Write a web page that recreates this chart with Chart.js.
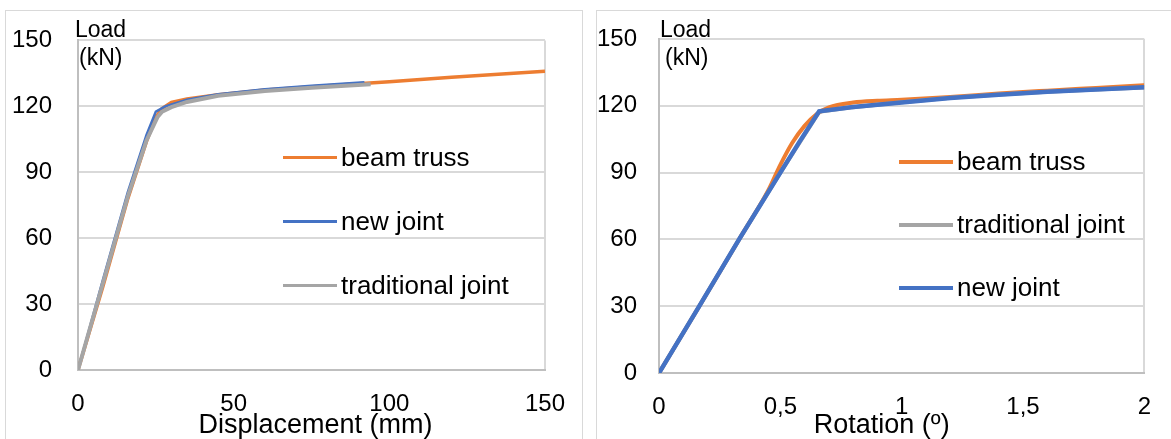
<!DOCTYPE html>
<html>
<head>
<meta charset="utf-8">
<script src="https://cdn.jsdelivr.net/npm/chart.js@4/dist/chart.umd.min.js"></script>
<style>
  html, body { margin: 0; padding: 0; background: #fff; width: 1171px; height: 439px; overflow: hidden; }
  .panel { position: absolute; border: 1px solid #d9d9d9; box-sizing: border-box; }
  #p1 { left: 5px; top: 10px; width: 578px; height: 445px; }
  #p2 { left: 596px; top: 10px; width: 600px; height: 445px; }
  .wrap { position: absolute; top: 0; height: 439px; width: 585px; }
  #w1 { left: 0; }
  #w2 { left: 586px; }
</style>
</head>
<body>
<div class="panel" id="p1"></div>
<div class="panel" id="p2"></div>
<div class="wrap" id="w1"><canvas id="c1" width="585" height="439"></canvas></div>
<div class="wrap" id="w2"><canvas id="c2" width="585" height="439"></canvas></div>
<script>
// ---- axis ticks ----
const loadTicks = [0, 30, 60, 90, 120, 150];
const loadTickLabels = ['0', '30', '60', '90', '120', '150'];
const dispTicks = [0, 50, 100, 150];
const dispTickLabels = ['0', '50', '100', '150'];
const rotTicks = [0, 0.5, 1, 1.5, 2];
const rotTickLabels = ['0', '0,5', '1', '1,5', '2'];

// ---- load vs displacement (mm, kN) ----
const dispBeamTruss = [[0, 0], [8, 38], [16, 78], [22, 104], [25, 115], [27, 119], [30, 121.8], [35, 123.3], [45, 125.3], [60, 127.4], [80, 129.4], [100, 131.2], [120, 133.2], [150, 136]];
const dispNewJoint = [[0, 0], [8, 41], [16, 81], [22, 107], [25, 117.6], [28, 120], [35, 123], [45, 125.5], [60, 127.8], [75, 129.4], [92, 131]];
const dispTraditional = [[0, 0], [8, 39.5], [16, 79], [22, 104.5], [25.5, 115], [27, 117.5], [30, 119.6], [35, 122], [45, 124.8], [60, 127], [75, 128.5], [94, 130]];

// ---- load vs rotation (deg, kN) ----
const rotBeamTruss = [[0, 0], [0.166, 30], [0.33, 60], [0.45, 82], [0.5, 93.5], [0.55, 103.5], [0.6, 111], [0.65, 116.3], [0.7, 119.3], [0.8, 121.5], [0.9, 122.3], [1.0, 122.7], [1.2, 123.9], [1.4, 125.5], [1.6, 126.8], [1.8, 128], [2.0, 129.2]];
const rotTraditional = [[0, 0], [0.166, 30], [0.33, 60], [0.5, 90], [0.66, 117.3], [0.8, 119.4], [1.0, 121.6], [1.2, 123.6], [1.4, 125.1], [1.6, 126.3], [1.8, 127.3], [2.0, 128.2]];
const rotNewJoint = [[0, 0], [0.166, 30], [0.33, 60], [0.5, 90], [0.58, 104], [0.66, 117.5], [0.8, 119.5], [1.0, 121.5], [1.2, 123.5], [1.4, 125], [1.6, 126.3], [1.8, 127.3], [2.0, 128.3]];

const ORANGE = '#ED7D31', BLUE = '#4472C4', GRAY = '#A5A5A5';
const FONT = 'Liberation Sans, Arial, sans-serif';

const toXY = arr => arr.map(p => ({ x: p[0], y: p[1] }));

// Draws the "Load (kN)" caption, the x-axis title and the in-plot legend
const overlayPlugin = {
  id: 'overlay',
  afterDraw(chart, args, o) {
    const { ctx, chartArea: a } = chart;
    ctx.save();
    ctx.fillStyle = '#000';
    ctx.textAlign = 'left';
    ctx.textBaseline = 'alphabetic';
    ctx.font = o.unitFont + 'px ' + FONT;
    ctx.fillText('Load', a.left + o.loadDx, o.loadY);
    ctx.fillText('(kN)', a.left + o.unitDx, o.unitY);

    ctx.font = o.titleFont + 'px ' + FONT;
    ctx.textAlign = 'center';
    ctx.fillText(o.title, (a.left + a.right) / 2 + o.titleDx, o.titleY);

    ctx.textAlign = 'left';
    ctx.font = o.legendFont + 'px ' + FONT;
    ctx.textBaseline = 'middle';
    o.items.forEach((it, i) => {
      const y = a.top + o.legendTop + i * o.legendGap;
      ctx.strokeStyle = it.color;
      ctx.lineWidth = o.legendLine;
      ctx.lineCap = 'butt';
      ctx.beginPath();
      ctx.moveTo(a.left + o.legendX, y);
      ctx.lineTo(a.left + o.legendX + o.legendLen, y);
      ctx.stroke();
      ctx.fillStyle = '#000';
      ctx.fillText(it.text, a.left + o.legendX + o.legendLen + 4, y + 1);
    });
    ctx.restore();
  }
};

function makeChart(id, cfg) {
  const xMax = cfg.xTicks[cfg.xTicks.length - 1];
  return new Chart(document.getElementById(id), {
    type: 'line',
    data: {
      datasets: cfg.series.map(s => ({
        label: s.label,
        data: toXY(s.data),
        borderColor: s.color,
        backgroundColor: s.color,
        borderWidth: s.width,
        pointRadius: 0,
        fill: false,
        tension: 0,
        cubicInterpolationMode: s.smooth ? 'monotone' : 'default'
      }))
    },
    options: {
      responsive: false,
      animation: false,
      events: [],
      layout: { padding: { top: cfg.padTop, right: cfg.padRight, left: 0, bottom: 0 } },
      plugins: {
        legend: { display: false },
        tooltip: { enabled: false },
        overlay: cfg.overlay
      },
      scales: {
        x: {
          type: 'linear',
          min: 0,
          max: xMax,
          afterBuildTicks: s => { s.ticks = cfg.xTicks.map(v => ({ value: v })); },
          afterFit: s => { s.height = cfg.xHeight; },
          ticks: {
            callback: (v, i) => cfg.xLabels[i],
            font: { family: FONT, size: 24 },
            color: '#000',
            padding: cfg.xTickPad,
            maxRotation: 0,
            autoSkip: false
          },
          grid: {
            drawTicks: false,
            lineWidth: 2,
            color: c => (c.tick && c.tick.value === xMax) ? '#d9d9d9' : 'rgba(0,0,0,0)'
          },
          border: { color: '#bfbfbf', width: 2 }
        },
        y: {
          type: 'linear',
          min: 0,
          max: 150,
          afterBuildTicks: s => { s.ticks = loadTicks.map(v => ({ value: v })); },
          afterFit: s => { s.width = cfg.yWidth; },
          ticks: {
            callback: (v, i) => loadTickLabels[i],
            font: { family: FONT, size: 24 },
            color: '#000',
            padding: cfg.yTickPad,
            autoSkip: false
          },
          grid: { drawTicks: false, color: '#d9d9d9', lineWidth: 2 },
          border: { color: '#bfbfbf', width: 2 }
        }
      }
    },
    plugins: [overlayPlugin]
  });
}

// Load–displacement panel (top-most series listed first)
makeChart('c1', {
  xTicks: dispTicks, xLabels: dispTickLabels,
  padTop: 38, padRight: 39, xHeight: 69, yWidth: 78, xTickPad: 20, yTickPad: 26,
  series: [
    { label: 'traditional joint', data: dispTraditional, color: GRAY, width: 4 },
    { label: 'new joint', data: dispNewJoint, color: BLUE, width: 2.5 },
    { label: 'beam truss', data: dispBeamTruss, color: ORANGE, width: 3.5 }
  ],
  overlay: {
    unitFont: 23, loadDx: -3, loadY: 36.5, unitDx: 1, unitY: 65,
    title: 'Displacement (mm)', titleFont: 27, titleDx: 4, titleY: 433,
    legendFont: 26, legendX: 205, legendLen: 54, legendTop: 117, legendGap: 64, legendLine: 3,
    items: [
      { text: 'beam truss', color: ORANGE },
      { text: 'new joint', color: BLUE },
      { text: 'traditional joint', color: GRAY }
    ]
  }
});

// Load–rotation panel
makeChart('c2', {
  xTicks: rotTicks, xLabels: rotTickLabels,
  padTop: 39, padRight: 18, xHeight: 66, yWidth: 73, xTickPad: 20, yTickPad: 22,
  series: [
    { label: 'new joint', data: rotNewJoint, color: BLUE, width: 4.5 },
    { label: 'traditional joint', data: rotTraditional, color: GRAY, width: 4 },
    { label: 'beam truss', data: rotBeamTruss, color: ORANGE, width: 4, smooth: true }
  ],
  overlay: {
    unitFont: 23, loadDx: 1, loadY: 36.5, unitDx: 6, unitY: 65,
    title: 'Rotation (º)', titleFont: 27, titleDx: -20, titleY: 433,
    legendFont: 26, legendX: 240, legendLen: 54, legendTop: 123, legendGap: 63, legendLine: 4,
    items: [
      { text: 'beam truss', color: ORANGE },
      { text: 'traditional joint', color: GRAY },
      { text: 'new joint', color: BLUE }
    ]
  }
});
</script>
</body>
</html>
